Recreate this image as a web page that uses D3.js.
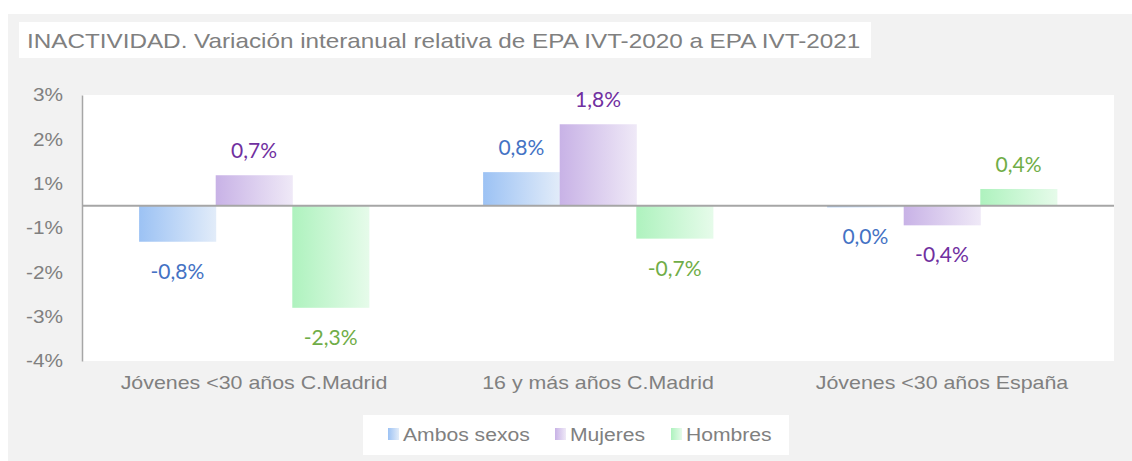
<!DOCTYPE html>
<html>
<head>
<meta charset="utf-8">
<script src="https://cdn.jsdelivr.net/npm/d3@7"></script>
<style>
  body { margin: 0; background: #ffffff; }
  text { font-family: "Liberation Sans", Arial, sans-serif; }
</style>
</head>
<body>
<script>
var categories = ["Jóvenes <30 años C.Madrid", "16 y más años C.Madrid", "Jóvenes <30 años España"];
var seriesNames = ["Ambos sexos", "Mujeres", "Hombres"];
var ambos = [-0.0081, 0.0076, -0.0003];
var mujeres = [0.0069, 0.0184, -0.0044];
var hombres = [-0.0230, -0.0074, 0.0038];
var tickValues = [0.025, 0.015, 0.005, -0.005, -0.015, -0.025, -0.035];
var tickLabels = ["3%", "2%", "1%", "-1%", "-2%", "-3%", "-4%"];

var seriesValues = [ambos, mujeres, hombres];
var gradStops = [["#9cc2f4", "#e2ecf9"], ["#c8b2e6", "#efe9f7"], ["#aef2be", "#e6fbea"]];
var labelColors = ["#4472c4", "#7030a0", "#70ad47"];

var width = 1132, height = 461;
var plot = {left: 82, right: 1114, top: 95, bottom: 361};
var SX = 1.155; // the source text is a little wider than Arial

// widen text horizontally, keeping its anchor
function stretch(sel, k) {
    sel.each(function() {
        var w = this.getComputedTextLength();
        d3.select(this).attr("textLength", w * k).attr("lengthAdjust", "spacingAndGlyphs");
    });
}

var svg = d3.select("body").append("svg")
    .attr("width", width)
    .attr("height", height);

var defs = svg.append("defs");
gradStops.forEach(function(g, i) {
    var lg = defs.append("linearGradient")
        .attr("id", "grad" + i)
        .attr("x1", "0").attr("x2", "1").attr("y1", "0").attr("y2", "0");
    lg.append("stop").attr("offset", "0%").attr("stop-color", g[0]);
    lg.append("stop").attr("offset", "100%").attr("stop-color", g[1]);
});

// gray panel
svg.append("rect").attr("x", 8).attr("y", 14).attr("width", width - 8).attr("height", height - 14).attr("fill", "#f2f2f2");

// title
svg.append("rect").attr("x", 19).attr("y", 22).attr("width", 852).attr("height", 36).attr("fill", "#ffffff");
svg.append("text")
    .attr("x", 27).attr("y", 48)
    .attr("font-size", "21px")
    .attr("fill", "#808080")
    .text("INACTIVIDAD. Variación interanual relativa de EPA IVT-2020 a EPA IVT-2021")
    .call(stretch, SX);

// plot area
svg.append("rect")
    .attr("x", plot.left).attr("y", plot.top)
    .attr("width", plot.right - plot.left).attr("height", plot.bottom - plot.top)
    .attr("fill", "#ffffff");

var y = d3.scaleLinear().domain([-0.035, 0.025]).range([plot.bottom, plot.top]);
var x0 = d3.scaleBand().domain(categories).range([plot.left, plot.right]).paddingInner(0.332).paddingOuter(0.166);
var x1 = d3.scaleBand().domain(seriesNames).range([0, x0.bandwidth()]);

// y axis
var yAxis = d3.axisLeft(y)
    .tickValues(tickValues)
    .tickSize(0)
    .tickPadding(19)
    .tickFormat(function(d, i) { return tickLabels[i]; });
var ya = svg.append("g").attr("transform", "translate(" + plot.left + ",0)").call(yAxis);
ya.select(".domain").attr("stroke", "#a6a6a6").attr("stroke-width", 1.5);
ya.selectAll("text")
    .attr("font-size", "18px")
    .attr("fill", "#808080")
    .style("font-family", "'Liberation Sans', Arial, sans-serif")
    .call(stretch, SX);

var fmt = function(v) {
    var s = d3.format(".1%")(v).replace(".", ",").replace("−", "-");
    if (s === "-0,0%") s = "0,0%";
    return s;
};

// bars
seriesValues.forEach(function(vals, si) {
    var g = svg.append("g");
    g.selectAll("rect")
        .data(vals)
        .enter().append("rect")
        .attr("x", function(d, i) { return x0(categories[i]) + x1(seriesNames[si]); })
        .attr("y", function(d) { return y(Math.max(0, d)); })
        .attr("width", x1.bandwidth() + 0.5)
        .attr("height", function(d) { return Math.max(1.5, Math.abs(y(d) - y(0))); })
        .attr("fill", "url(#grad" + si + ")");
    g.selectAll("text")
        .data(vals)
        .enter().append("text")
        .attr("x", function(d, i) { return x0(categories[i]) + x1(seriesNames[si]) + x1.bandwidth() / 2; })
        .attr("y", function(d) { return d >= 0 ? y(d) - 17 : y(d) + 37; })
        .attr("text-anchor", "middle")
        .attr("font-size", "21px")
        .attr("fill", labelColors[si])
        .style("font-family", "Lato, 'Open Sans', sans-serif")
        .text(function(d) { return fmt(d); });
});

// zero line
svg.append("line")
    .attr("x1", plot.left).attr("x2", plot.right)
    .attr("y1", y(0)).attr("y2", y(0))
    .attr("stroke", "#a6a6a6").attr("stroke-width", 2);

// x axis labels
var xAxis = d3.axisBottom(x0).tickSize(0).tickPadding(15);
var xa = svg.append("g").attr("transform", "translate(0," + plot.bottom + ")").call(xAxis);
xa.select(".domain").remove();
xa.selectAll("text")
    .attr("font-size", "18.5px")
    .attr("fill", "#808080")
    .style("font-family", "'Liberation Sans', Arial, sans-serif")
    .call(stretch, SX);

// legend
svg.append("rect").attr("x", 363).attr("y", 415).attr("width", 426).attr("height", 40).attr("fill", "#ffffff");
var legendX = [388, 555, 671];
var lg = svg.append("g").selectAll("g")
    .data(seriesNames)
    .enter().append("g")
    .attr("transform", function(d, i) { return "translate(" + legendX[i] + ",428)"; });
lg.append("rect").attr("width", 11).attr("height", 12)
    .attr("fill", function(d, i) { return "url(#grad" + i + ")"; });
lg.append("text")
    .attr("x", 15).attr("y", 13)
    .attr("font-size", "18.3px")
    .attr("fill", "#808080")
    .text(function(d) { return d; })
    .call(stretch, SX);
</script>
</body>
</html>
